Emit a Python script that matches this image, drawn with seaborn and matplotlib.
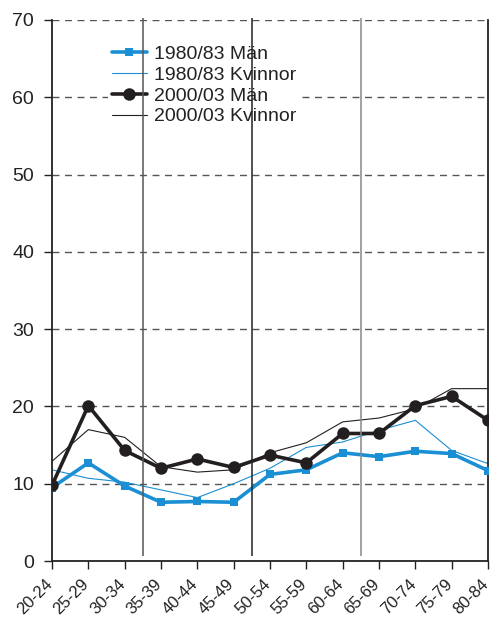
import numpy as np
import pandas as pd
import matplotlib
matplotlib.use('Agg')
import matplotlib.pyplot as plt
import matplotlib.transforms as mtransforms
import seaborn as sns

age_groups = ['20-24', '25-29', '30-34', '35-39', '40-44', '45-49', '50-54',
              '55-59', '60-64', '65-69', '70-74', '75-79', '80-84']
man_1980 = [9.5, 12.7, 9.7, 7.6, 7.7, 7.6, 11.2, 11.8, 14.0, 13.5, 14.2, 13.9, 11.7]
kvinnor_1980 = [11.8, 10.7, 10.2, 9.2, 8.2, 10.0, 12.0, 14.7, 15.4, 16.9, 18.2, 14.3, 12.6]
man_2000 = [9.8, 20.1, 14.3, 12.0, 13.2, 12.1, 13.7, 12.7, 16.5, 16.5, 20.1, 21.3, 18.2]
kvinnor_2000 = [12.9, 17.0, 16.0, 12.2, 11.5, 11.8, 14.0, 15.3, 18.0, 18.5, 19.7, 22.3, 22.3]

blue = '#1a8fd3'
black = '#231f20'

sns.set_style('white')
plt.rcParams['font.family'] = ['Liberation Sans', 'DejaVu Sans']

fig = plt.figure(figsize=(4.92, 6.2), dpi=100)
ax = fig.add_axes([52 / 492, 1 - 561 / 620, 436 / 492, 541 / 620])

x = np.arange(len(age_groups))

sns.lineplot(x=x, y=man_1980, color=blue, lw=2.6, marker='s', markersize=6,
             markeredgewidth=0, label='1980/83 Män', ax=ax, zorder=3)
sns.lineplot(x=x, y=kvinnor_1980, color=blue, lw=0.8, label='1980/83 Kvinnor', ax=ax, zorder=2)
sns.lineplot(x=x, y=man_2000, color=black, lw=2.6, marker='o', markersize=9,
             markeredgewidth=0, label='2000/03 Män', ax=ax, zorder=4)
sns.lineplot(x=x, y=kvinnor_2000, color=black, lw=0.8, label='2000/03 Kvinnor', ax=ax, zorder=2)

# skiljelinjer mellan åldersgrupper
for xv, c in zip([2.5, 5.5, 8.5], ['#555555', '#222222', '#888888']):
    ax.vlines(xv, 0.7, 70.3, color=c, lw=1.1, clip_on=False, zorder=6)

ax.set_xlim(0, 12)
ax.set_ylim(0, 70)
ax.set_yticks(range(0, 71, 10))
ax.set_xticks(x)
ax.set_xticklabels(age_groups, rotation=45, ha='right', rotation_mode='anchor')
ax.tick_params(axis='both', colors='#222222', direction='out',
               length=6, width=1, left=True, bottom=True)
ax.tick_params(axis='y', pad=7, labelsize=14)
ax.tick_params(axis='x', pad=5, labelsize=12)

# flytta etiketterna lite åt vänster
offset = mtransforms.ScaledTranslation(-7 / 100, 0, fig.dpi_scale_trans)
for lab in ax.get_xticklabels():
    lab.set_transform(lab.get_transform() + offset)

for v in range(10, 71, 10):
    ax.axhline(v, color='#555555', lw=1, ls=(0, (5, 4)), zorder=1)

for s in ['left', 'bottom', 'right']:
    ax.spines[s].set_color('#222222')
    ax.spines[s].set_linewidth(1.3)
ax.spines['top'].set_visible(False)

leg = ax.legend(loc='upper left', bbox_to_anchor=(0.128, 0.96), fontsize=14,
                frameon=True, framealpha=1, edgecolor='none', facecolor='white',
                handlelength=1.8, handletextpad=0.35, labelspacing=0.16,
                borderpad=0.2, borderaxespad=0)
for t in leg.get_texts():
    t.set_color('#222222')

fig.savefig('out.png', dpi=100)
